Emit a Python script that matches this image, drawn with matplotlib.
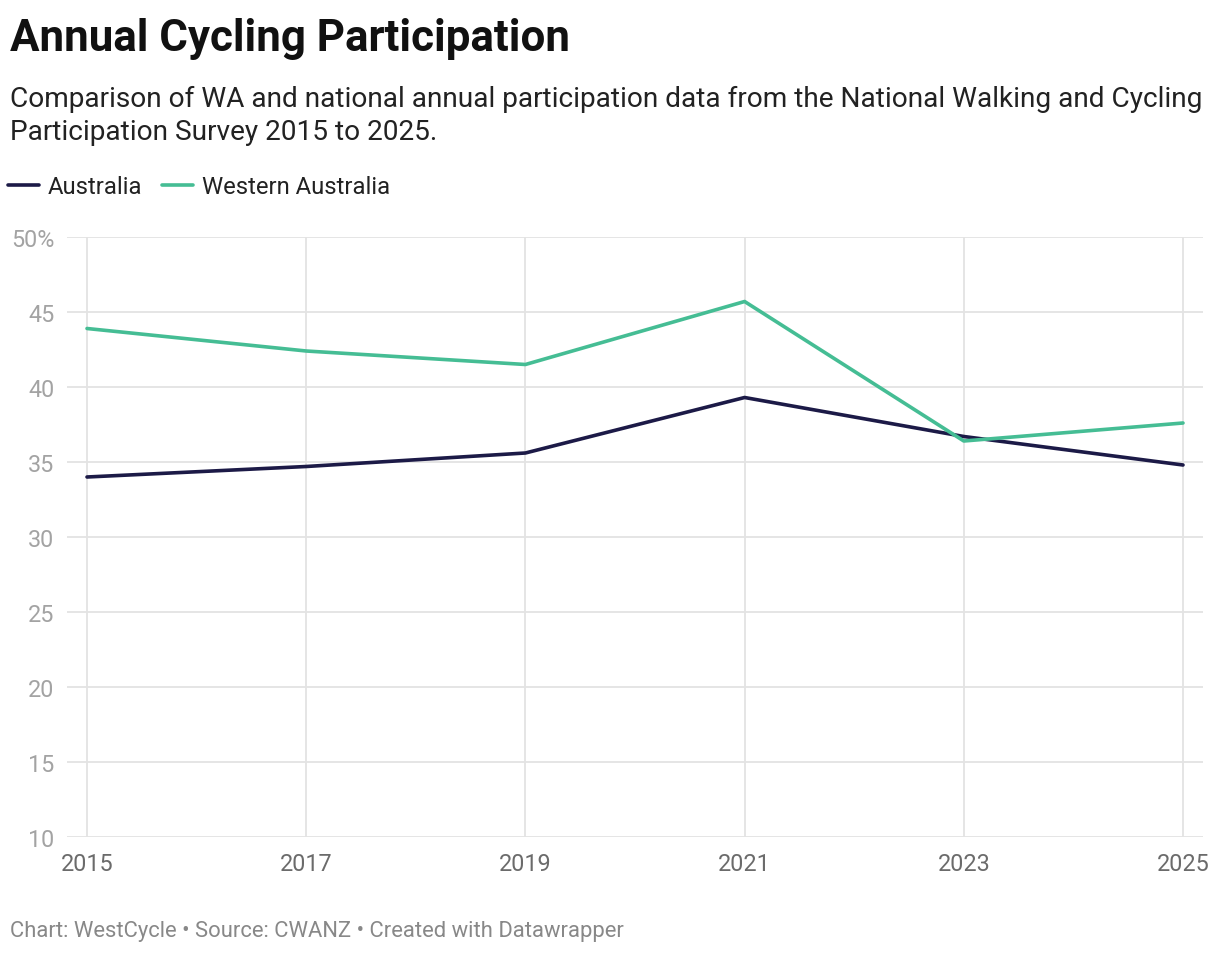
import matplotlib.pyplot as plt
from matplotlib.ticker import FixedLocator

plt.rcParams['font.family'] = ['Roboto', 'DejaVu Sans']

years = [2015, 2017, 2019, 2021, 2023, 2025]
australia = [34.0, 34.7, 35.6, 39.3, 36.7, 34.8]
western_australia = [43.9, 42.4, 41.5, 45.7, 36.4, 37.6]
y_ticks = [10, 15, 20, 25, 30, 35, 40, 45, 50]
y_labels = ['10', '15', '20', '25', '30', '35', '40', '45', '50%']

fig = plt.figure(figsize=(12.2, 9.54), dpi=100)
ax = fig.add_axes([67/1220, (954-838)/954, (1203-67)/1220, 600/954])

ax.plot(years, australia, color='#1c1a47', lw=2.6, solid_capstyle='round',
        solid_joinstyle='round', label='Australia', zorder=3)
ax.plot(years, western_australia, color='#45bd94', lw=2.6, solid_capstyle='round',
        solid_joinstyle='round', label='Western Australia', zorder=3)

ax.set_xlim(2014.8175, 2025.1825)
ax.set_ylim(10, 50)
ax.yaxis.set_major_locator(FixedLocator(y_ticks))
ax.set_yticklabels(y_labels)
ax.set_xticks(years)
ax.set_xticklabels([str(y) for y in years])
ax.grid(True, color='#e3e3e3', lw=1.3, zorder=0)
for s in ax.spines.values():
    s.set_visible(False)
ax.tick_params(axis='y', length=0, pad=9, labelsize=16.8, labelcolor='#a3a3a3')
ax.tick_params(axis='x', length=0, pad=11, labelsize=16.8, labelcolor='#6b6b6b')

fig.text(10/1220, 1 - 51/954, 'Annual Cycling Participation', fontsize=31.6,
         fontweight='bold', color='#111111')
fig.text(10/1220, 1 - 107/954, 'Comparison of WA and national annual participation data from the National Walking and Cycling',
         fontsize=20.2, color='#222222')
fig.text(10/1220, 1 - 140/954, 'Participation Survey 2015 to 2025.',
         fontsize=20.2, color='#222222')

fig.legend(loc='upper left', bbox_to_anchor=(8/1220, 1 - 176/954), ncol=2, frameon=False,
           fontsize=17.2, handlelength=1.3, handletextpad=0.35, columnspacing=0.85,
           borderaxespad=0, borderpad=0, labelcolor='#222222')

fig.text(10/1220, 1 - 937/954, 'Chart: WestCycle \u2022 Source: CWANZ \u2022 Created with Datawrapper',
         fontsize=15.8, color='#888888')

fig.savefig('out.png', dpi=100, facecolor='white')
